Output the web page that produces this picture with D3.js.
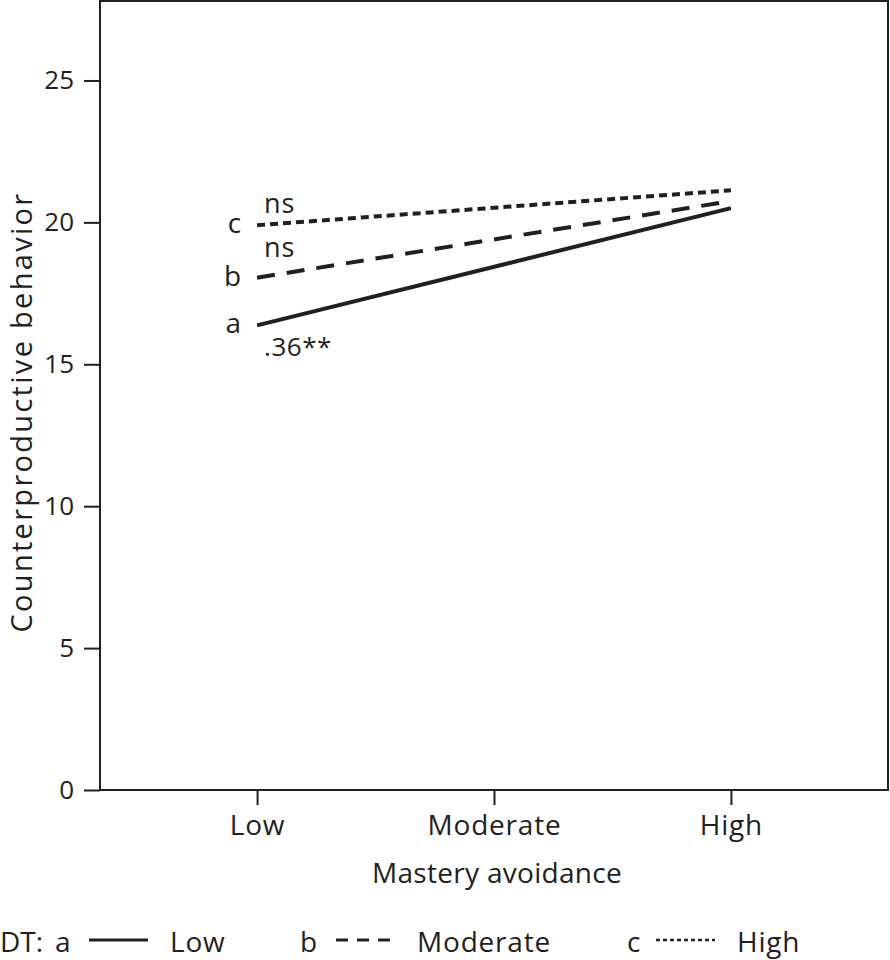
<!DOCTYPE html>
<html><head><meta charset="utf-8">
<script src="https://cdn.jsdelivr.net/npm/d3@7"></script>
<style>body{margin:0;background:#fff}svg text{font-family:"Open Sans",sans-serif;fill:#231f20}</style>
</head><body><svg id="c" width="890" height="960"></svg>
<script>
const categories = ["Low","Moderate","High"];
const yTicks = [0,5,10,15,20,25];
const seriesA = [16.37, 20.5];   // DT low
const seriesB = [18.05, 20.75];  // DT moderate
const seriesC = [19.9, 21.13];   // DT high
const seriesKeys = ["a","b","c"];
const slopeLabels = [".36**","ns","ns"];
const legendNames = ["Low","Moderate","High"];

const svg = d3.select("#c");
const L=100,R=888,T=1,B=790;
const x = d3.scaleLinear().domain([-0.663,2.663]).range([L,R]);
const y = d3.scaleLinear().domain([0,27.8]).range([B,T]);
const col="#231f20";

svg.append("rect").attr("x",L).attr("y",T).attr("width",R-L).attr("height",B-T)
  .attr("fill","none").attr("stroke",col).attr("stroke-width",2);

const yAx = svg.append("g").attr("transform",`translate(${L},0)`)
  .call(d3.axisLeft(y).tickValues(yTicks).tickSize(16).tickPadding(10));
const xAx = svg.append("g").attr("transform",`translate(0,${B})`)
  .call(d3.axisBottom(x).tickValues([0,1,2]).tickFormat(i=>categories[i]).tickSize(15).tickPadding(10));
[yAx,xAx].forEach(g=>{g.select(".domain").remove();
  g.selectAll("line").attr("stroke",col).attr("stroke-width",2);
  g.selectAll("text").attr("fill",col).attr("font-family","Open Sans");});
yAx.selectAll("text").attr("font-size",26);
xAx.selectAll("text").attr("font-size",28).attr("letter-spacing",0.8).attr("dy",null).attr("y",45);

const series=[seriesA,seriesB,seriesC];
const dashes=[null,"18,12","8,5"];
const line=d3.line().x((d,i)=>x(i*2)).y(d=>y(d));
series.forEach((s,k)=>{
  svg.append("path").datum(s).attr("d",line).attr("fill","none")
    .attr("stroke",col).attr("stroke-width",4).attr("stroke-dasharray",dashes[k]);
  svg.append("text").attr("x",x(0)-16).attr("y",y(s[0])+8).attr("text-anchor","end")
    .attr("font-size",28).text(seriesKeys[k]);
});
svg.append("text").attr("x",x(0)+7).attr("y",y(seriesA[0])+31).attr("font-size",26).attr("letter-spacing",0.5).text(slopeLabels[0]);
svg.append("text").attr("x",x(0)+7).attr("y",y(seriesB[0])-21).attr("font-size",27).attr("letter-spacing",0.8).text(slopeLabels[1]);
svg.append("text").attr("x",x(0)+7).attr("y",y(seriesC[0])-12).attr("font-size",27).attr("letter-spacing",0.8).text(slopeLabels[2]);

svg.append("text").attr("x",(L+R)/2+3).attr("y",883).attr("text-anchor","middle").attr("font-size",28).attr("letter-spacing",0.3).text("Mastery avoidance");
svg.append("text").attr("transform",`translate(32,${412}) rotate(-90)`).attr("text-anchor","middle").attr("font-size",29).attr("letter-spacing",2.3).text("Counterproductive behavior");

// legend
const lg = svg.append("g");
const lx=[0,300,627], ldash=[null,"12,9","4,3"];
lg.append("text").attr("x",0).attr("y",952).attr("font-size",28).text("DT:");
seriesKeys.forEach((k,i)=>{
  const bx = i===0?55:lx[i];
  lg.append("text").attr("x",bx).attr("y",952).attr("font-size",28).text(k);
  const sx = i===0?89:(i===1?336:656);
  lg.append("line").attr("x1",sx).attr("x2",sx+59).attr("y1",940).attr("y2",940)
    .attr("stroke",col).attr("stroke-width",i===2?2.5:3).attr("stroke-dasharray",ldash[i]);
  lg.append("text").attr("x",sx+81).attr("y",952).attr("font-size",28).attr("letter-spacing",0.8).text(legendNames[i]);
});
</script></body></html>
